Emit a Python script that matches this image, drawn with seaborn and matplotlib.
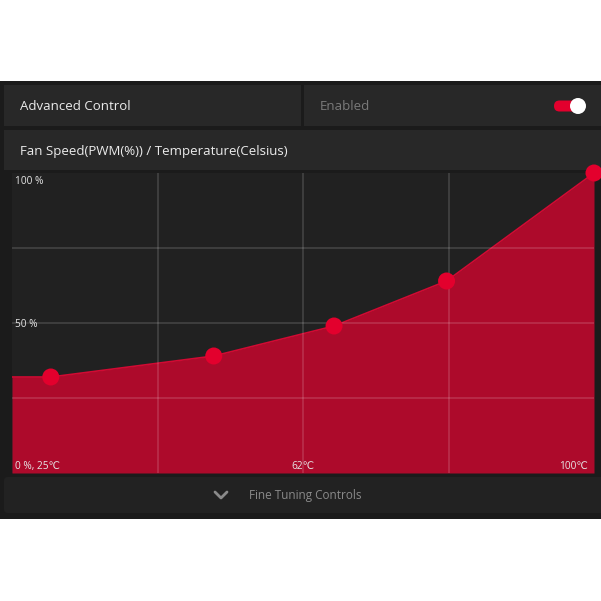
import numpy as np
import matplotlib
matplotlib.use("Agg")
import matplotlib.pyplot as plt
import seaborn as sns
from matplotlib.patches import Rectangle, FancyBboxPatch, Circle

sns.set_style("dark")
plt.rcParams['font.family'] = ['Open Sans', 'DejaVu Sans']

# fan curve points: temperature (Celsius) vs fan speed (PWM %)
temps = [30, 51, 66.5, 81, 100]
pwm = [32, 39, 49, 64, 100]
t_min, t_max = 25, 100
x_grid = [43.75, 62.5, 81.25]
y_grid = [25, 50, 75]

title_row = "Advanced Control"
state_text = "Enabled"
chart_title = "Fan Speed(PWM(%)) / Temperature(Celsius)"
footer_text = "Fine Tuning Controls"

W = 601
fig = plt.figure(figsize=(6.01, 6.01), dpi=100, facecolor='white')

# background panel drawn in pixel coordinates
bg = fig.add_axes([0, 0, 1, 1])
bg.set_xlim(0, W)
bg.set_ylim(W, 0)
bg.axis('off')

bg.add_patch(Rectangle((0, 81), W, 438, color='#1b1b1b', lw=0))
bg.add_patch(Rectangle((4, 85), 297, 41, color='#282828', lw=0))
bg.add_patch(Rectangle((304, 85), 297, 41, color='#282828', lw=0))
bg.add_patch(Rectangle((4, 130), 597, 40, color='#282828', lw=0))
bg.add_patch(FancyBboxPatch((4, 477), 605, 36, boxstyle="round,pad=0,rounding_size=4",
                            color='#222222', lw=0))

bg.text(20, 106, title_row, color='#ececec', fontsize=9.5, va='center', ha='left')
bg.text(320, 106, state_text, color='#7a7a7a', fontsize=9.5, va='center', ha='left')
bg.text(20, 151, chart_title, color='#ececec', fontsize=9.5, va='center', ha='left')

# toggle switch
bg.add_patch(FancyBboxPatch((554, 100.5), 30, 11, boxstyle="round,pad=0,rounding_size=5.5",
                            color='#e3002d', lw=0))
bg.add_patch(Circle((578, 106), 8, color='white', lw=0))

# footer chevron + label
bg.plot([215, 221, 227], [492, 498, 492], color='#8a8a8a', lw=2, solid_capstyle='round')
bg.text(249, 496, footer_text, color='#8a8a8a', fontsize=8.5, va='center', ha='left')

# chart
ax = fig.add_axes([12 / W, 128 / W, 582 / W, 300 / W])
ax.set_facecolor('#212121')
ax.fill_between([t_min] + temps, [pwm[0]] + pwm, 0, color='#ad0a2b', lw=0, zorder=1)
sns.lineplot(x=[t_min] + temps, y=[pwm[0]] + pwm, ax=ax, color='#d20a33', lw=1.2, zorder=2)
sns.scatterplot(x=temps, y=pwm, ax=ax, s=150, color='#e3002d', edgecolor='none',
                zorder=5, clip_on=False)
ax.set_xlim(t_min, t_max)
ax.set_ylim(0, 100)
ax.set_xticks(x_grid)
ax.set_yticks(y_grid)
ax.set_axisbelow(False)
ax.grid(True, color='white', alpha=0.13, lw=1.5)
ax.tick_params(length=0, labelbottom=False, labelleft=False)
ax.set_xlabel('')
ax.set_ylabel('')
for s in ax.spines.values():
    s.set_visible(False)

lab = dict(color='#e6e6e6', fontsize=7.3, transform=ax.transAxes)
ax.text(0.006, 0.973, "100 %", va='center', ha='left', **lab)
ax.text(0.006, 0.495, "50 %", va='center', ha='left', **lab)
ax.text(0.006, 0.023, "0 %, 25℃", va='center', ha='left', **lab)
ax.text(0.5, 0.023, "62℃", va='center', ha='center', **lab)
ax.text(0.99, 0.023, "100℃", va='center', ha='right', **lab)

fig.savefig("out.png", dpi=100, facecolor='white')
